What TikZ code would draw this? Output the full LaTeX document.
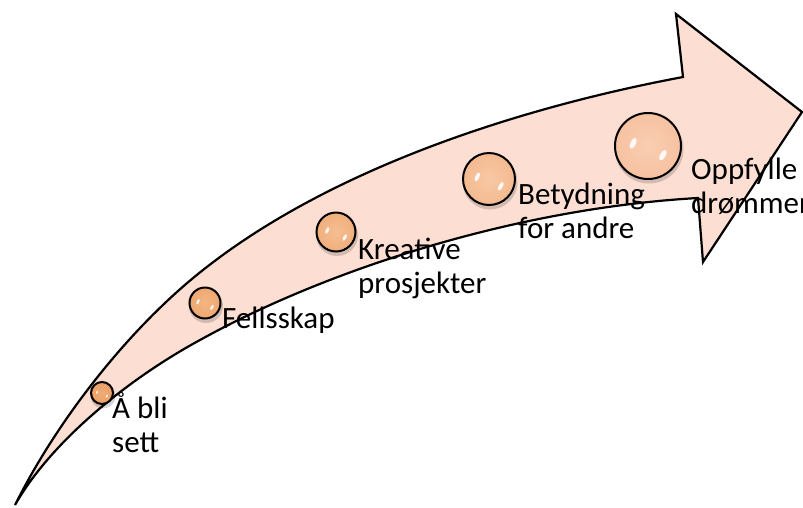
\documentclass[tikz,border=0pt]{standalone}
\usepackage{fontspec}
\setmainfont{Carlito}
\definecolor{bodyfill}{RGB}{252,222,210}
\colorlet{orbin}{orange}
\colorlet{orbmid}{orange}
\colorlet{orbout}{orange}
% radial shading of a bead: 50bp is the rim of the circle
\pgfdeclareradialshading[orbin,orbmid,orbout]{orb}{\pgfpoint{0bp}{0bp}}%
  {color(0bp)=(orbin); color(32bp)=(orbmid); color(50bp)=(orbout)}
\tikzset{
  body/.style={fill=bodyfill, draw=black, line width=2.2pt, line join=miter},
  bead/.style={circle, draw=black, line width=2pt, shading=orb, inner sep=0pt},
  beadshadow/.style={fill=black, opacity=0.16},
  gloss/.style={fill=white, opacity=0.9},
  label/.style={anchor=base west, align=left, inner sep=0pt,
    font=\fontsize{31pt}{34pt}\selectfont}
}
% #1 name, #2 x, #3 y, #4 radius, #5 inner, #6 middle, #7 outer colour
\newcommand\bead[7]{%
  \colorlet{orbin}{#5}\colorlet{orbmid}{#6}\colorlet{orbout}{#7}%
  \fill[beadshadow] ({#2+1},{#3+3}) circle ({#4+1.5});
  \node[bead, minimum size={2*#4*1pt}] (#1) at (#2,#3) {};
  \fill[gloss, rotate around={-25:({#2-0.45*#4},{#3-0.08*#4})}]
    ({#2-0.45*#4},{#3-0.08*#4}) ellipse [x radius={0.08*#4}, y radius={0.18*#4}];
  \fill[gloss, rotate around={-30:({#2+0.45*#4},{#3+0.28*#4})}]
    ({#2+0.45*#4},{#3+0.28*#4}) ellipse [x radius={0.08*#4}, y radius={0.18*#4}];
}
\begin{document}
\begin{tikzpicture}[x=1pt, y=-1pt]
\useasboundingbox (0,0) rectangle (803,507);
\clip (0,0) rectangle (803,507);

% curved rising arrow
\draw[body]
  (15,505) .. controls (60,415) and (133,325) .. (203,270)
           .. controls (333,167) and (523,107) .. (683,77)
  -- (676,14) -- (802,112) -- (703,262) -- (698,198)
           .. controls (520,208) and (330,268) .. (200,340)
           .. controls (130,378) and (52,440) .. (15,505)
  -- cycle;

% beads along the arrow
\bead{b1}{102}{393}{11}{rgb,255:red,240;green,172;blue,118}{rgb,255:red,232;green,156;blue,100}{rgb,255:red,214;green,136;blue,82}
\bead{b2}{205}{303}{15.5}{rgb,255:red,244;green,182;blue,130}{rgb,255:red,236;green,164;blue,108}{rgb,255:red,220;green,144;blue,92}
\bead{b3}{336}{232}{19.5}{rgb,255:red,246;green,190;blue,145}{rgb,255:red,238;green,170;blue,118}{rgb,255:red,224;green,152;blue,102}
\bead{b4}{489}{179}{26}{rgb,255:red,248;green,200;blue,165}{rgb,255:red,242;green,182;blue,138}{rgb,255:red,230;green,164;blue,120}
\bead{b5}{648}{146}{33}{rgb,255:red,249;green,206;blue,178}{rgb,255:red,245;green,190;blue,156}{rgb,255:red,236;green,176;blue,140}

% labels (anchored on the baseline of their last line)
\node[label] (t1) at (112,452) {Å bli\\sett};
\node[label] (t2) at (222,328) {Fellsskap};
\node[label] (t3) at (358,293) {Kreative\\prosjekter};
\node[label] (t4) at (518,238) {Betydning\\for andre};
\node[label] (t5) at (691,213) {Oppfylle\\drømmer};
\end{tikzpicture}
\end{document}
